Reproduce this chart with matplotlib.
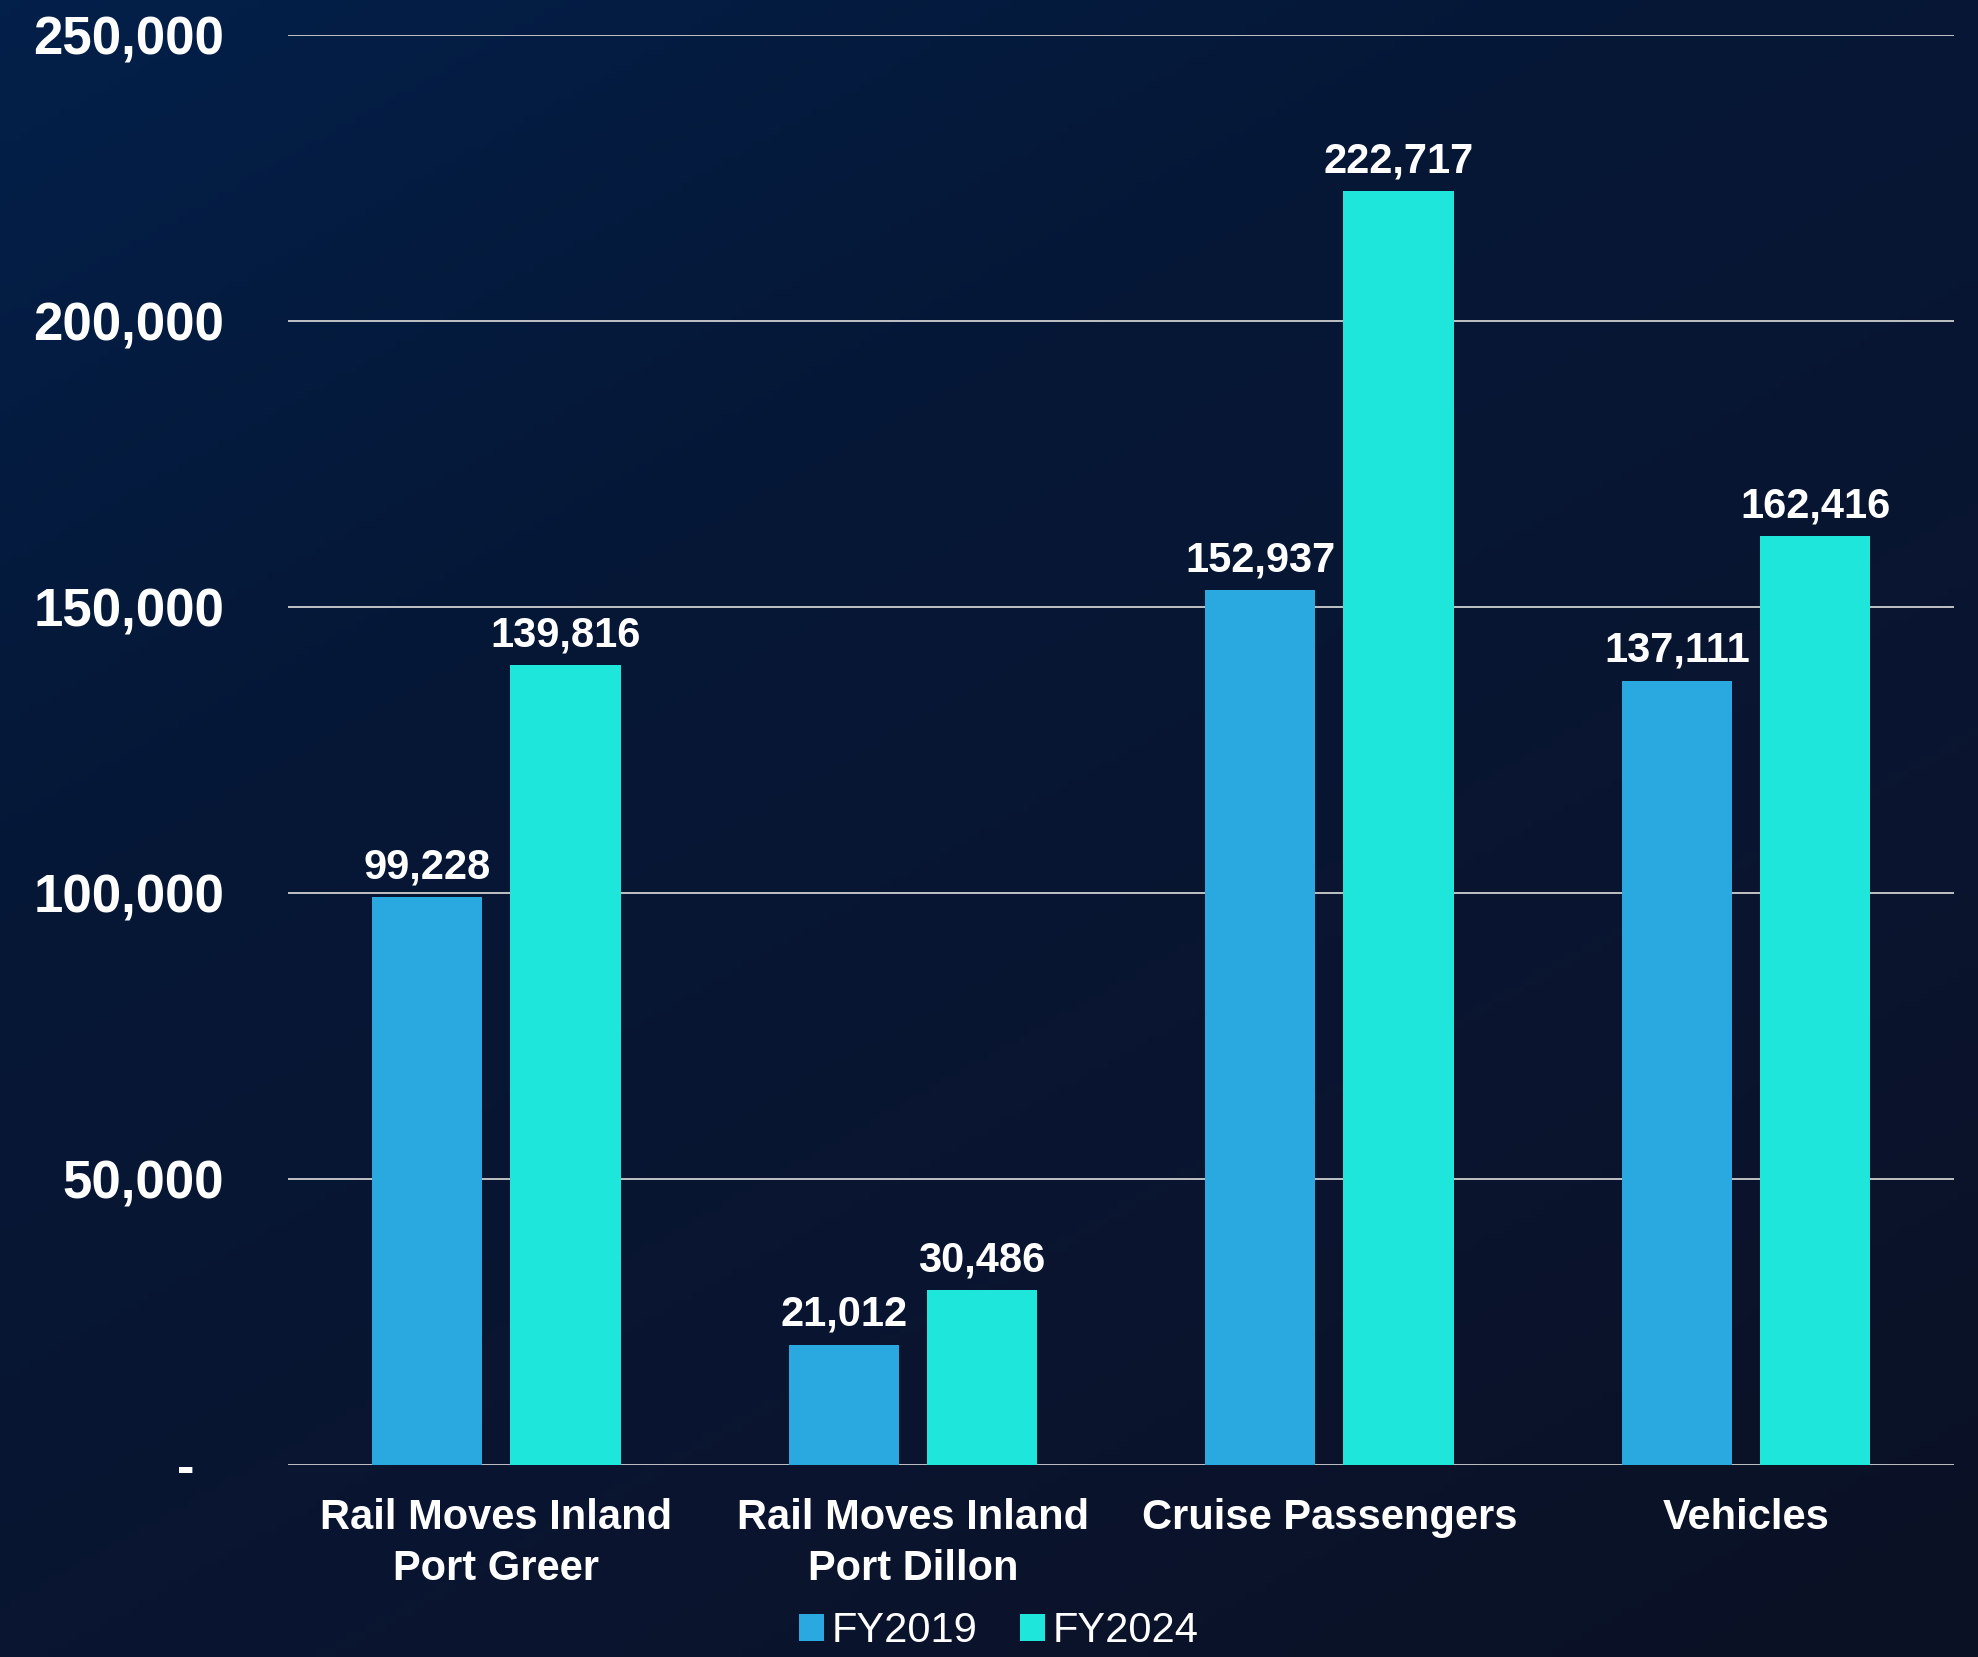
import matplotlib
matplotlib.use('Agg')
import matplotlib.pyplot as plt
import matplotlib.ticker as mtick
from matplotlib.colors import LinearSegmentedColormap
import numpy as np

BG_TOP    = '#03204a'
BG_BOTTOM = '#0b1124'
BLUE      = '#29a9e0'
TEAL      = '#1fe6da'
GRID      = '#cfcfcf'
WHITE     = '#ffffff'

categories = ['Rail Moves Inland\nPort Greer', 'Rail Moves Inland\nPort Dillon',
              'Cruise Passengers', 'Vehicles']
fy2019 = [99228, 21012, 152937, 137111]
fy2024 = [139816, 30486, 222717, 162416]
series_names = ['FY2019', 'FY2024']
yticks = [0, 50000, 100000, 150000, 200000, 250000]

plt.rcParams['font.family'] = ['Liberation Sans', 'DejaVu Sans']

fig = plt.figure(figsize=(19.78, 16.57), dpi=100)

# dark gradient backdrop
bg = fig.add_axes([0, 0, 1, 1], zorder=0)
yy, xx = np.mgrid[0:1:200j, 0:1:200j]
grad = np.clip(0.6 * yy + 0.4 * xx, 0, 1)
cmap = LinearSegmentedColormap.from_list('bg', [BG_TOP, '#061736', '#0a1530', BG_BOTTOM])
bg.imshow(grad, cmap=cmap, aspect='auto', extent=[0, 1, 0, 1], origin='upper')
bg.axis('off')

ax = fig.add_axes([0.1456, 0.116, 0.8424, 0.863], zorder=1)
ax.set_facecolor('none')

x = np.arange(len(categories))
w = 0.265
off = 0.166
b1 = ax.bar(x - off, fy2019, w, color=BLUE, label=series_names[0], zorder=3)
b2 = ax.bar(x + off, fy2024, w, color=TEAL, label=series_names[1], zorder=3)

for bars in (b1, b2):
    for bar in bars:
        h = bar.get_height()
        ax.annotate(f'{h:,.0f}', (bar.get_x() + bar.get_width() / 2, h),
                    xytext=(0, 7), textcoords='offset points',
                    ha='center', va='bottom', color=WHITE,
                    fontsize=30, fontweight='bold', zorder=4)

ax.set_xlim(-0.5, len(categories) - 0.5)
ax.set_ylim(0, 250000)
ax.set_yticks(yticks)
ax.yaxis.set_major_formatter(mtick.FuncFormatter(
    lambda v, p: '-  ' if v == 0 else f'{v:,.0f}'))
ax.set_xticks(x)
ax.set_xticklabels(categories, fontsize=30, fontweight='bold', color=WHITE,
                   linespacing=1.35)
for lab in ax.get_yticklabels():
    lab.set_fontsize(38)
    lab.set_fontweight('bold')
    lab.set_color(WHITE)

ax.tick_params(axis='both', length=0)
ax.tick_params(axis='y', pad=46)
ax.tick_params(axis='x', pad=24)
ax.grid(True, axis='y', color=GRID, linewidth=1.3, zorder=1)
ax.set_axisbelow(True)
for s in ax.spines.values():
    s.set_visible(False)

leg = fig.legend(handles=[b1, b2], labels=series_names, loc='lower center',
                 bbox_to_anchor=(0.505, -0.019), ncol=2, frameon=False,
                 fontsize=30, labelcolor=WHITE, handlelength=0.6,
                 handleheight=0.6, handletextpad=0.2, columnspacing=1.0)

fig.savefig('out.png', dpi=100)
